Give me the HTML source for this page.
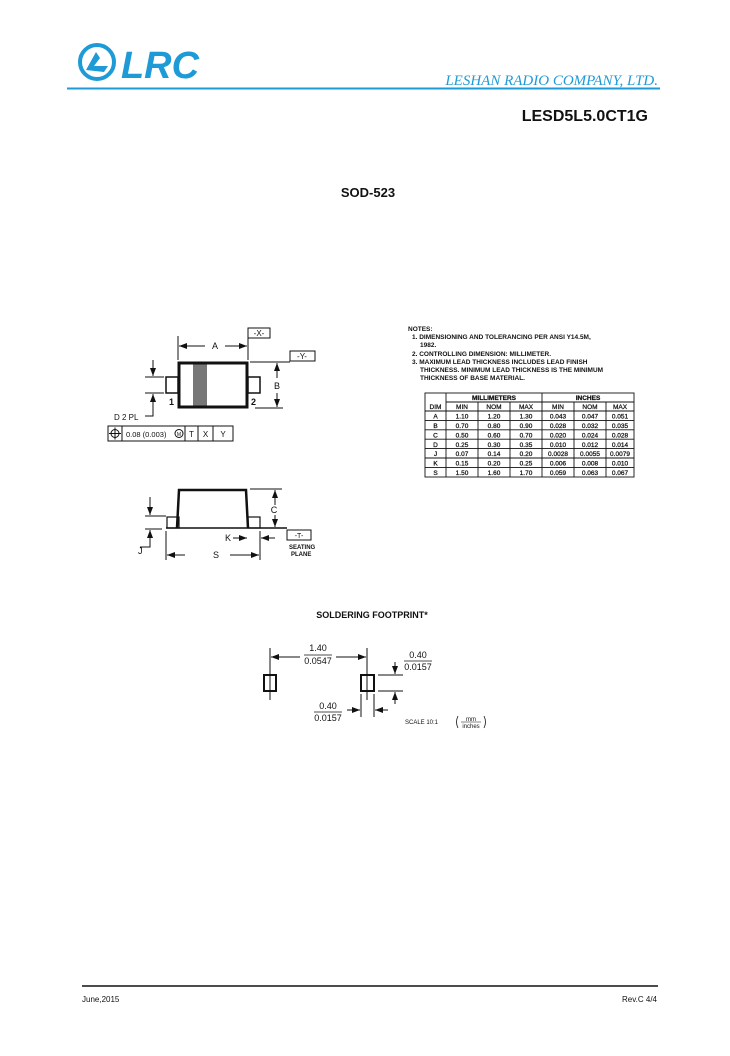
<!DOCTYPE html>
<html><head><meta charset="utf-8"><style>
html,body{margin:0;padding:0;background:#fff;}
svg{display:block;}
text{font-family:"Liberation Sans",sans-serif;fill:#111;}
</style></head><body>
<svg width="730" height="1056" viewBox="0 0 730 1056" xmlns="http://www.w3.org/2000/svg">
<defs>
<marker id="ar" markerWidth="8" markerHeight="6" refX="8" refY="3" orient="auto" markerUnits="userSpaceOnUse"><path d="M0,0 L8,3 L0,6 z" fill="#111"/></marker>
</defs>
<!-- header -->
<circle cx="97" cy="62" r="17" fill="none" stroke="#1e9ad6" stroke-width="4"/>
<path d="M86,70 L96,52 L100,58 L94,66 L108,66 L104,72 z" fill="#1e9ad6"/>
<text x="121" y="78" font-size="38" font-weight="bold" font-style="italic" style="fill:#1e9ad6" textLength="78" lengthAdjust="spacingAndGlyphs">LRC</text>
<text x="658" y="85" font-size="15" font-style="italic" text-anchor="end" style="fill:#1e9ad6;font-family:'Liberation Serif',serif">LESHAN RADIO COMPANY, LTD.</text>
<line x1="67" y1="88.5" x2="660" y2="88.5" stroke="#1e9ad6" stroke-width="2"/>
<text x="648" y="121" font-size="16" font-weight="bold" text-anchor="end">LESD5L5.0CT1G</text>
<text x="368" y="197" font-size="13" font-weight="bold" text-anchor="middle">SOD-523</text>

<!-- top view -->
<g stroke="#111" fill="none">
<rect x="166" y="377" width="12" height="16" stroke-width="1.5"/>
<rect x="248" y="377" width="12" height="16" stroke-width="1.5"/>
<rect x="193" y="363" width="14" height="44" fill="#777" stroke="none"/>
<rect x="179" y="363" width="68" height="44" stroke-width="3"/>
<line x1="178" y1="336" x2="178" y2="360" stroke-width="1"/>
<line x1="248" y1="328" x2="248" y2="360" stroke-width="1"/>
<line x1="205" y1="346" x2="179" y2="346" marker-end="url(#ar)"/>
<line x1="225" y1="346" x2="247" y2="346" marker-end="url(#ar)"/>
<rect x="248" y="328" width="22" height="10"/>
<rect x="290" y="351" width="25" height="10"/>
<line x1="250" y1="362" x2="290" y2="362"/>
<line x1="255" y1="408" x2="283" y2="408"/>
<line x1="277" y1="378" x2="277" y2="363" marker-end="url(#ar)"/>
<line x1="277" y1="393" x2="277" y2="407" marker-end="url(#ar)"/>
<line x1="145" y1="377" x2="164" y2="377"/>
<line x1="145" y1="393" x2="164" y2="393"/>
<line x1="153" y1="360" x2="153" y2="376" marker-end="url(#ar)"/>
<line x1="153" y1="412" x2="153" y2="394" marker-end="url(#ar)"/>
<polyline points="145,416 153,416 153,410"/>
<rect x="108" y="426" width="125" height="15"/>
<line x1="122" y1="426" x2="122" y2="441"/>
<line x1="185" y1="426" x2="185" y2="441"/>
<line x1="198" y1="426" x2="198" y2="441"/>
<line x1="213" y1="426" x2="213" y2="441"/>
<circle cx="115" cy="433.5" r="4"/>
<line x1="109" y1="433.5" x2="121" y2="433.5"/>
<line x1="115" y1="427.5" x2="115" y2="439.5"/>
<circle cx="179" cy="433.5" r="4"/>
</g>
<text x="259" y="336" font-size="8" text-anchor="middle">-X-</text>
<text x="302" y="359" font-size="8" text-anchor="middle">-Y-</text>
<text x="215" y="349" font-size="9" text-anchor="middle">A</text>
<text x="277" y="389" font-size="9" text-anchor="middle" style="paint-order:stroke;stroke:#fff;stroke-width:4">B</text>
<text x="169" y="405" font-size="9" font-weight="bold">1</text>
<text x="251" y="405" font-size="9" font-weight="bold">2</text>
<text x="114" y="420" font-size="8">D 2 PL</text>
<text x="126" y="437" font-size="7.5">0.08 (0.003)</text>
<text x="179" y="436" font-size="5" text-anchor="middle">M</text>
<text x="191.5" y="437" font-size="8" text-anchor="middle">T</text>
<text x="205.5" y="437" font-size="8" text-anchor="middle">X</text>
<text x="223" y="437" font-size="8" text-anchor="middle">Y</text>

<!-- side view -->
<g stroke="#111" fill="none">
<polyline points="177,528 179,490 246,490 248,528" stroke-width="2.5"/>
<rect x="167" y="517" width="12" height="11" stroke-width="1.2"/>
<rect x="248" y="517" width="12" height="11" stroke-width="1.2"/>
<line x1="166" y1="528" x2="287" y2="528" stroke-width="1.5"/>
<line x1="250" y1="489" x2="282" y2="489"/>
<line x1="275" y1="505" x2="275" y2="490" marker-end="url(#ar)"/>
<line x1="275" y1="515" x2="275" y2="527" marker-end="url(#ar)"/>
<line x1="145" y1="516" x2="166" y2="516"/>
<line x1="145" y1="529" x2="162" y2="529"/>
<line x1="150" y1="497" x2="150" y2="515" marker-end="url(#ar)"/>
<line x1="150" y1="545" x2="150" y2="530" marker-end="url(#ar)"/>
<polyline points="140,547 150,547 150,540"/>
<line x1="166" y1="531" x2="166" y2="560"/>
<line x1="260" y1="531" x2="260" y2="560"/>
<line x1="185" y1="555" x2="167" y2="555" marker-end="url(#ar)"/>
<line x1="230" y1="555" x2="259" y2="555" marker-end="url(#ar)"/>
<line x1="233" y1="538" x2="247" y2="538" marker-end="url(#ar)"/>
<line x1="275" y1="538" x2="261" y2="538" marker-end="url(#ar)"/>
<rect x="287" y="530" width="24" height="10"/>
</g>
<text x="274" y="513" font-size="9" text-anchor="middle">C</text>
<text x="138" y="554" font-size="9">J</text>
<text x="216" y="558" font-size="9" text-anchor="middle">S</text>
<text x="228" y="541" font-size="9" text-anchor="middle">K</text>
<text x="299" y="538" font-size="7" text-anchor="middle">-T-</text>
<text x="289" y="549" font-size="6" font-weight="bold">SEATING</text>
<text x="291" y="556" font-size="6" font-weight="bold">PLANE</text>

<!-- notes -->
<g font-size="6.5" font-weight="bold">
<text x="408" y="331">NOTES:</text>
<text x="412" y="339">1. DIMENSIONING AND TOLERANCING PER ANSI Y14.5M,</text>
<text x="420" y="347">1982.</text>
<text x="412" y="356">2. CONTROLLING DIMENSION: MILLIMETER.</text>
<text x="412" y="364">3. MAXIMUM LEAD THICKNESS INCLUDES LEAD FINISH</text>
<text x="420" y="372">THICKNESS. MINIMUM LEAD THICKNESS IS THE MINIMUM</text>
<text x="420" y="380">THICKNESS OF BASE MATERIAL.</text>
</g>
<g stroke="#111" stroke-width="0.9" fill="none">
<rect x="425" y="393" width="209" height="84"/>
<line x1="446" y1="402" x2="634" y2="402"/>
<line x1="425" y1="411" x2="634" y2="411"/>
<line x1="446" y1="393" x2="446" y2="477"/>
<line x1="542" y1="393" x2="542" y2="477"/>
<line x1="478" y1="402" x2="478" y2="477"/>
<line x1="510" y1="402" x2="510" y2="477"/>
<line x1="574" y1="402" x2="574" y2="477"/>
<line x1="606" y1="402" x2="606" y2="477"/>
<line x1="425" y1="420.4" x2="634" y2="420.4"/>
<line x1="425" y1="429.8" x2="634" y2="429.8"/>
<line x1="425" y1="439.2" x2="634" y2="439.2"/>
<line x1="425" y1="448.6" x2="634" y2="448.6"/>
<line x1="425" y1="458" x2="634" y2="458"/>
<line x1="425" y1="467.4" x2="634" y2="467.4"/>
</g>
<g font-size="6.5" text-anchor="middle" style="stroke:#111;stroke-width:0.25">
<text x="494" y="400" font-weight="bold">MILLIMETERS</text>
<text x="588" y="400" font-weight="bold">INCHES</text>
<text x="435.5" y="409">DIM</text><text x="462" y="409">MIN</text><text x="494" y="409">NOM</text><text x="526" y="409">MAX</text><text x="558" y="409">MIN</text><text x="590" y="409">NOM</text><text x="620" y="409">MAX</text>
<text x="435.5" y="418.5">A</text><text x="462" y="418.5">1.10</text><text x="494" y="418.5">1.20</text><text x="526" y="418.5">1.30</text><text x="558" y="418.5">0.043</text><text x="590" y="418.5">0.047</text><text x="620" y="418.5">0.051</text>
<text x="435.5" y="428">B</text><text x="462" y="428">0.70</text><text x="494" y="428">0.80</text><text x="526" y="428">0.90</text><text x="558" y="428">0.028</text><text x="590" y="428">0.032</text><text x="620" y="428">0.035</text>
<text x="435.5" y="437.4">C</text><text x="462" y="437.4">0.50</text><text x="494" y="437.4">0.60</text><text x="526" y="437.4">0.70</text><text x="558" y="437.4">0.020</text><text x="590" y="437.4">0.024</text><text x="620" y="437.4">0.028</text>
<text x="435.5" y="446.8">D</text><text x="462" y="446.8">0.25</text><text x="494" y="446.8">0.30</text><text x="526" y="446.8">0.35</text><text x="558" y="446.8">0.010</text><text x="590" y="446.8">0.012</text><text x="620" y="446.8">0.014</text>
<text x="435.5" y="456.2">J</text><text x="462" y="456.2">0.07</text><text x="494" y="456.2">0.14</text><text x="526" y="456.2">0.20</text><text x="558" y="456.2">0.0028</text><text x="590" y="456.2">0.0055</text><text x="620" y="456.2">0.0079</text>
<text x="435.5" y="465.6">K</text><text x="462" y="465.6">0.15</text><text x="494" y="465.6">0.20</text><text x="526" y="465.6">0.25</text><text x="558" y="465.6">0.006</text><text x="590" y="465.6">0.008</text><text x="620" y="465.6">0.010</text>
<text x="435.5" y="475">S</text><text x="462" y="475">1.50</text><text x="494" y="475">1.60</text><text x="526" y="475">1.70</text><text x="558" y="475">0.059</text><text x="590" y="475">0.063</text><text x="620" y="475">0.067</text>
</g>

<!-- footprint -->
<text x="372" y="618" font-size="9" font-weight="bold" text-anchor="middle">SOLDERING FOOTPRINT*</text>
<g stroke="#111" fill="none">
<rect x="264" y="675" width="12" height="16" stroke-width="2"/>
<rect x="361" y="675" width="13" height="16" stroke-width="2"/>
<line x1="270" y1="648" x2="270" y2="700"/>
<line x1="367" y1="648" x2="367" y2="700"/>
<line x1="300" y1="657" x2="271" y2="657" marker-end="url(#ar)"/>
<line x1="336" y1="657" x2="366" y2="657" marker-end="url(#ar)"/>
<line x1="378" y1="675" x2="403" y2="675"/>
<line x1="378" y1="691" x2="403" y2="691"/>
<line x1="395" y1="662" x2="395" y2="674" marker-end="url(#ar)"/>
<line x1="395" y1="704" x2="395" y2="692" marker-end="url(#ar)"/>
<line x1="361" y1="694" x2="361" y2="717"/>
<line x1="374" y1="694" x2="374" y2="717"/>
<line x1="347" y1="710" x2="360" y2="710" marker-end="url(#ar)"/>
<line x1="388" y1="710" x2="375" y2="710" marker-end="url(#ar)"/>
<line x1="304" y1="655" x2="332" y2="655" stroke-width="0.8"/>
<line x1="404" y1="661" x2="432" y2="661" stroke-width="0.8"/>
<line x1="314" y1="712" x2="342" y2="712" stroke-width="0.8"/>
<path d="M458,716 q-3,6 0,12 M484,716 q3,6 0,12" stroke-width="0.8"/>
<line x1="461" y1="722" x2="481" y2="722" stroke-width="0.6"/>
</g>
<g font-size="9" text-anchor="middle">
<text x="318" y="651">1.40</text><text x="318" y="664">0.0547</text>
<text x="418" y="658">0.40</text><text x="418" y="670">0.0157</text>
<text x="328" y="709">0.40</text><text x="328" y="721">0.0157</text>
</g>
<text x="405" y="724" font-size="6">SCALE 10:1</text>
<text x="471" y="721" font-size="6" text-anchor="middle">mm</text>
<text x="471" y="728" font-size="6" text-anchor="middle">inches</text>

<!-- footer -->
<line x1="82" y1="986" x2="658" y2="986" stroke="#111" stroke-width="1.5"/>
<text x="82" y="1002" font-size="8">June,2015</text>
<text x="657" y="1002" font-size="8" text-anchor="end">Rev.C 4/4</text>
</svg>
</body></html>
